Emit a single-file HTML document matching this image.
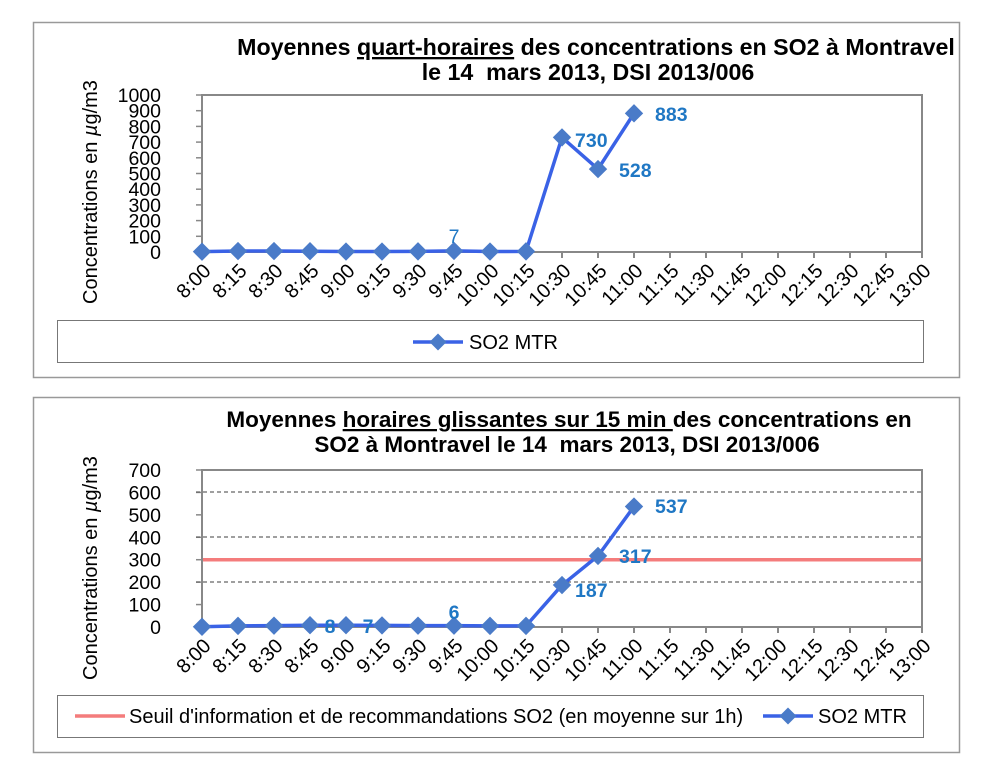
<!DOCTYPE html>
<html><head><meta charset="utf-8"><style>body{margin:0;background:#fff}svg{display:block}text{font-family:"Liberation Sans",Arial,sans-serif}</style></head><body>
<svg width="1000" height="759" viewBox="0 0 1000 759" xmlns="http://www.w3.org/2000/svg">
<rect x="0" y="0" width="1000" height="759" fill="#fff"/>
<!-- Chart 1 -->
<rect x="33.5" y="22.5" width="926" height="355" fill="none" stroke="#999" stroke-width="1.5"/>
<text x="596" y="55" font-size="23.2" font-weight="bold" text-anchor="middle">Moyennes <tspan text-decoration="underline">quart-horaires</tspan> des concentrations en SO2 à Montravel</text>
<text x="588" y="80" font-size="23.2" font-weight="bold" text-anchor="middle" xml:space="preserve">le 14  mars 2013, DSI 2013/006</text>
<text transform="translate(97,192) rotate(-90)" font-size="20" text-anchor="middle">Concentrations en <tspan font-style="italic">µ</tspan>g/m3</text>
<g font-size="19.5" text-anchor="end" id="y1"></g>
<rect x="202" y="95" width="720" height="157" fill="none" stroke="#888" stroke-width="2"/>
<g id="x1"></g>
<polyline id="l1" fill="none" stroke="#3a62e6" stroke-width="3.5" stroke-linejoin="round"/>
<g id="m1" fill="#4a7bc8"></g>
<g font-size="19.5" font-weight="bold" fill="#1f77c4">
<text x="454" y="243" text-anchor="middle" font-weight="normal">7</text>
<text x="575" y="147">730</text>
<text x="619" y="177">528</text>
<text x="655" y="121">883</text>
</g>
<rect x="57.5" y="320.5" width="866" height="42" fill="none" stroke="#777" stroke-width="1"/>
<line x1="413" y1="342" x2="463" y2="342" stroke="#3a62e6" stroke-width="3.5"/>
<rect x="432" y="336" width="12" height="12" fill="#4a7bc8" transform="rotate(45 438 342)"/>
<text x="469" y="349" font-size="20">SO2 MTR</text>

<!-- Chart 2 -->
<rect x="33.5" y="397.5" width="926" height="355" fill="none" stroke="#999" stroke-width="1.5"/>
<text x="569" y="427" font-size="22.5" font-weight="bold" text-anchor="middle">Moyennes <tspan text-decoration="underline">horaires glissantes sur 15 min </tspan>des concentrations en</text>
<text x="567" y="452" font-size="22.5" font-weight="bold" text-anchor="middle" xml:space="preserve">SO2 à Montravel le 14  mars 2013, DSI 2013/006</text>
<text transform="translate(97,568) rotate(-90)" font-size="20" text-anchor="middle">Concentrations en <tspan font-style="italic">µ</tspan>g/m3</text>
<g font-size="19.5" text-anchor="end" id="y2"></g>
<g stroke="#666" stroke-width="1.2" stroke-dasharray="4,3">
<line x1="196" y1="582" x2="922" y2="582"/>
<line x1="196" y1="537" x2="922" y2="537"/>
<line x1="196" y1="492" x2="922" y2="492"/>
</g>
<line x1="202" y1="559.7" x2="922" y2="559.7" stroke="#f47c7c" stroke-width="3.5"/>
<rect x="202" y="470" width="720" height="157" fill="none" stroke="#888" stroke-width="2"/>
<g id="x2"></g>
<polyline id="l2" fill="none" stroke="#3a62e6" stroke-width="3.5" stroke-linejoin="round"/>
<g id="m2" fill="#4a7bc8"></g>
<g font-size="19.5" font-weight="bold" fill="#1f77c4">
<text x="330" y="633" text-anchor="middle">8</text>
<text x="368" y="633" text-anchor="middle">7</text>
<text x="454" y="619" text-anchor="middle">6</text>
<text x="575" y="597">187</text>
<text x="619" y="563">317</text>
<text x="655" y="513">537</text>
</g>
<rect x="57.5" y="695.5" width="866" height="42" fill="none" stroke="#777" stroke-width="1"/>
<line x1="75" y1="716" x2="125" y2="716" stroke="#f47c7c" stroke-width="3.5"/>
<text x="129" y="723" font-size="20">Seuil d'information et de recommandations SO2 (en moyenne sur 1h)</text>
<line x1="763" y1="716" x2="813" y2="716" stroke="#3a62e6" stroke-width="3.5"/>
<rect x="782" y="710" width="12" height="12" fill="#4a7bc8" transform="rotate(45 788 716)"/>
<text x="818" y="723" font-size="20">SO2 MTR</text>
</svg>
<script>
(function(){
var NS="http://www.w3.org/2000/svg";
function el(p,t,a,txt){var e=document.createElementNS(NS,t);for(var k in a)e.setAttribute(k,a[k]);if(txt!==undefined)e.textContent=txt;document.getElementById(p).appendChild(e);return e;}
var labels=[];for(var i=0;i<21;i++){var m=480+i*15;labels.push(Math.floor(m/60)+":"+("0"+(m%60)).slice(-2));}
function xaxis(id,base){for(var i=0;i<21;i++){var x=202+i*36;el(id,"line",{x1:x,y1:base,x2:x,y2:base+6,stroke:"#888","stroke-width":2});
el(id,"text",{x:x+10,y:base+20,"font-size":20,"text-anchor":"end",transform:"rotate(-45 "+(x+10)+" "+(base+20)+")"},labels[i]);}}
xaxis("x1",252);xaxis("x2",627);
for(var v=0;v<=1000;v+=100){var y=252-v*0.157;el("y1","text",{x:161,y:y+7},v);el("y1","line",{x1:196,y1:y,x2:202,y2:y,stroke:"#888","stroke-width":1.5});}
for(var v=0;v<=700;v+=100){var y=627-v*0.2243;el("y2","text",{x:161,y:y+7},v);el("y2","line",{x1:196,y1:y,x2:202,y2:y,stroke:"#888","stroke-width":1.5});}
var d1=[2,6,6,5,3,3,4,7,3,4,730,528,883];
var d2=[1,5,6,8,8,7,6,6,5,5,187,317,537];
function series(l,m,d,base,k){var pts=[];for(var i=0;i<d.length;i++){var x=202+i*36,y=base-d[i]*k;pts.push(x+","+y);
el(m,"rect",{x:x-6.5,y:y-6.5,width:13,height:13,transform:"rotate(45 "+x+" "+y+")"});}
document.getElementById(l).setAttribute("points",pts.join(" "));}
series("l1","m1",d1,252,0.157);series("l2","m2",d2,627,0.2243);
})();
</script>
</body></html>
